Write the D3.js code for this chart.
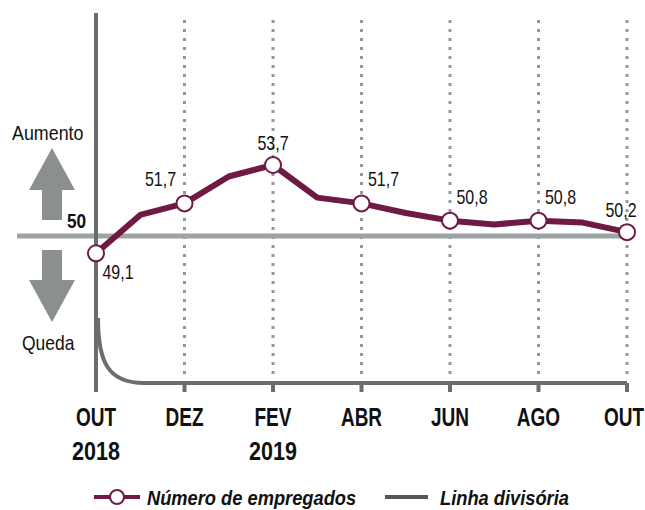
<!DOCTYPE html>
<html>
<head>
<meta charset="utf-8">
<script src="https://cdn.jsdelivr.net/npm/d3@7"></script>
<style>
body { margin: 0; background: #fff; }
svg text { font-family: "Liberation Sans", "DejaVu Sans", sans-serif; }
</style>
</head>
<body>
<svg id="chart" width="645" height="510"></svg>
<script>
// monthly readings, OUT 2018 .. OUT 2019
var months = ['OUT','NOV','DEZ','JAN','FEV','MAR','ABR','MAI','JUN','JUL','AGO','SET','OUT']
var values = [49.1, 51.1, 51.7, 53.1, 53.7, 52.0, 51.7, 51.2, 50.8, 50.6, 50.8, 50.7, 50.2]
var labelled = [0, 2, 4, 6, 8, 10, 12]
var tickLabels = ['OUT', 'DEZ', 'FEV', 'ABR', 'JUN', 'AGO', 'OUT']
var yearLabels = {0: '2018', 4: '2019'}
var baseline = 50

var svg = d3.select('#chart')
var maroon = '#6e1a45', darkGrey = '#6a6d70', lightGrey = '#9ea3a3'

// squeeze a text horizontally, the original uses a condensed face
function condense(sel, f) {
	sel.each(function() {
		var w = this.getComputedTextLength()
		d3.select(this).attr('textLength', w * f).attr('lengthAdjust', 'spacingAndGlyphs')
	})
	return sel
}

var x = d3.scaleLinear().domain([0, months.length - 1]).range([96, 627])
var y = d3.scaleLinear().domain([baseline, 53.7]).range([236, 165])

// dotted month guides
labelled.slice(1).forEach(function(i) {
	svg.append('line')
		.attr('x1', x(i)).attr('x2', x(i))
		.attr('y1', 20).attr('y2', 380)
		.attr('stroke', '#959899')
		.attr('stroke-width', 3)
		.attr('stroke-dasharray', '3 6')
})

// arrows
function arrow(cy, dir) {
	var hw = 23, sw = 10, head = 42, len = 72
	var t = cy, b = cy + len * dir
	var pts = [
		[52, t], [52 + hw, t + head * dir], [52 + sw, t + head * dir], [52 + sw, b],
		[52 - sw, b], [52 - sw, t + head * dir], [52 - hw, t + head * dir]
	]
	svg.append('path')
		.attr('d', d3.line()(pts) + 'Z')
		.attr('fill', '#8b8f90')
}
arrow(148, 1)
arrow(322, -1)

condense(svg.append('text').attr('x', 12).attr('y', 140).text('Aumento')
	.style('font-size', '21px').attr('fill', '#111'), 0.85)
condense(svg.append('text').attr('x', 22).attr('y', 350).text('Queda')
	.style('font-size', '21px').attr('fill', '#111'), 0.83)
condense(svg.append('text').attr('x', 67).attr('y', 228).text(baseline)
	.style('font-size', '21px').style('font-weight', 700).attr('fill', '#111'), 0.82)

// baseline at 50
svg.append('line')
	.attr('x1', 17).attr('x2', x(months.length - 1))
	.attr('y1', y(baseline)).attr('y2', y(baseline))
	.attr('stroke', lightGrey).attr('stroke-width', 5)

// vertical axis
svg.append('line')
	.attr('x1', x(0)).attr('x2', x(0))
	.attr('y1', 13).attr('y2', 392)
	.attr('stroke', darkGrey).attr('stroke-width', 4)

// dividing line with curved corner
var bottom = 383
svg.append('path')
	.attr('d', 'M' + (x(0) + 2) + ',318 C' + (x(0) + 2) + ',362 ' + (x(0) + 12) + ',' + bottom +
		' ' + (x(0) + 48) + ',' + bottom + ' L' + x(months.length - 1) + ',' + bottom)
	.attr('fill', 'none')
	.attr('stroke', darkGrey).attr('stroke-width', 4)

labelled.forEach(function(i, k) {
	svg.append('line')
		.attr('x1', x(i)).attr('x2', x(i))
		.attr('y1', bottom).attr('y2', 392)
		.attr('stroke', darkGrey).attr('stroke-width', 4)
	var t = svg.append('text')
		.attr('x', i == 12 ? 644 : x(i)).attr('y', 426)
		.attr('text-anchor', i == 12 ? 'end' : 'middle')
		.style('font-size', '25px').style('font-weight', 700)
		.attr('fill', '#111')
		.text(tickLabels[k])
	condense(t, 0.76)
	if (yearLabels[i]) {
		condense(svg.append('text')
			.attr('x', x(i)).attr('y', 460)
			.attr('text-anchor', 'middle')
			.style('font-size', '25px').style('font-weight', 700)
			.attr('fill', '#111')
			.text(yearLabels[i]), 0.86)
	}
})

// series
var line = d3.line()
	.x(function(d, i) { return x(i) })
	.y(function(d) { return y(d) })

svg.append('path')
	.datum(values)
	.attr('d', line)
	.attr('fill', 'none')
	.attr('stroke', maroon)
	.attr('stroke-width', 6)
	.attr('stroke-linejoin', 'round')

labelled.forEach(function(i) {
	svg.append('circle')
		.attr('cx', x(i)).attr('cy', y(values[i]))
		.attr('r', 8)
		.attr('fill', '#fff')
		.attr('stroke', maroon).attr('stroke-width', 2)
	var lx = x(i), ly = y(values[i]) - 16, anchor = 'middle'
	if (i == 0) { lx = x(i) + 22; ly = y(values[i]) + 26 }
	else if (i == 2) { lx = x(i) - 24; ly = y(values[i]) - 17 }
	else if (i == 4) { ly = y(values[i]) - 15 }
	else if (i == 12) { lx = x(i) - 6; ly = y(values[i]) - 15 }
	else { lx = x(i) + 22; ly = y(values[i]) - 17 }
	condense(svg.append('text')
		.attr('x', lx).attr('y', ly)
		.attr('text-anchor', anchor)
		.style('font-size', '21px')
		.attr('fill', '#111')
		.text(d3.format('.1f')(values[i]).replace('.', ',')), 0.76)
})

// legend
var lg = svg.append('g').attr('transform', 'translate(94,497)')
lg.append('line').attr('x1', 0).attr('x2', 46).attr('y1', 0).attr('y2', 0)
	.attr('stroke', maroon).attr('stroke-width', 4)
lg.append('circle').attr('cx', 23).attr('cy', 0).attr('r', 7)
	.attr('fill', '#fff').attr('stroke', maroon).attr('stroke-width', 2)
condense(lg.append('text').attr('x', 53).attr('y', 8).text('Número de empregados')
	.style('font-size', '21px').style('font-weight', 700).style('font-style', 'italic').attr('fill', '#111'), 0.87)
lg.append('line').attr('x1', 291).attr('x2', 334).attr('y1', 0).attr('y2', 0)
	.attr('stroke', '#555').attr('stroke-width', 4)
condense(lg.append('text').attr('x', 346).attr('y', 8).text('Linha divisória')
	.style('font-size', '21px').style('font-weight', 700).style('font-style', 'italic').attr('fill', '#111'), 0.87)
</script>
</body>
</html>
